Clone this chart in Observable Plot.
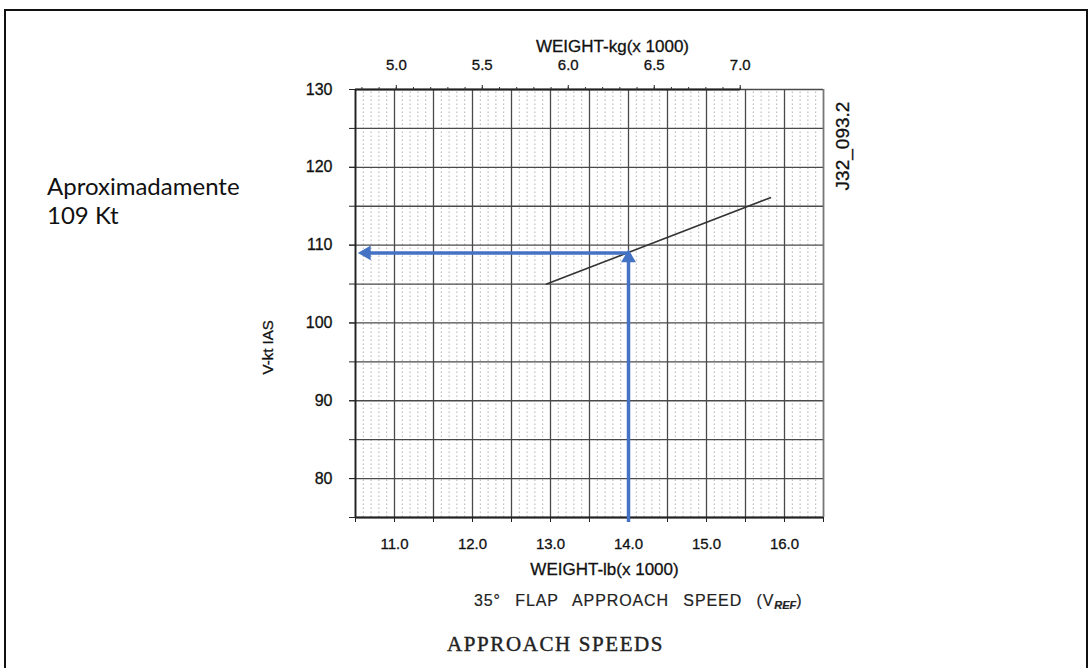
<!DOCTYPE html>
<html>
<head>
<meta charset="utf-8">
<script src="https://cdn.jsdelivr.net/npm/d3@7"></script>
<script src="https://cdn.jsdelivr.net/npm/@observablehq/plot@0.6"></script>
<style>
  html, body { margin: 0; padding: 0; background: #fff; }
  #wrap { position: relative; width: 1091px; height: 668px; overflow: hidden; font-family: "Liberation Sans", Arial, sans-serif; }
  #border { position: absolute; left: 4px; top: 9px; width: 1084px; height: 700px; border: 2px solid #111; box-sizing: border-box; }
  .note { position: absolute; left: 47px; top: 171px; font-family: Lato, "Open Sans", sans-serif; font-size: 24px; line-height: 29px; color: #111; }
  .code { position: absolute; left: 843px; top: 146px; transform: translate(-50%, -50%) rotate(-90deg); font-size: 19px; color: #111; white-space: nowrap; -webkit-text-stroke: 0.3px #111; }
  .flap { position: absolute; left: 474px; top: 592px; font-size: 16px; color: #222; word-spacing: 9px; letter-spacing: 0.9px; white-space: nowrap; -webkit-text-stroke: 0.2px #222; }
  .flap sub { font-size: 11px; font-style: italic; font-weight: bold; vertical-align: -3px; word-spacing: 0; letter-spacing: 0; }
  .title { position: absolute; left: 447px; top: 632px; font-family: "Liberation Serif", "DejaVu Serif", serif; font-size: 21px; letter-spacing: 1.6px; color: #222; white-space: nowrap; -webkit-text-stroke: 0.4px #222; }
  svg { position: absolute; left: 0; top: 0; }
  svg text { stroke: #111; stroke-width: 0.3px; }
</style>
</head>
<body>
<div id="wrap">
  <div id="border"></div>
  <div class="note">Aproximadamente<br>109 Kt</div>
  <div class="code">J32_093.2</div>
  <div class="flap">35° FLAP APPROACH SPEED (V<sub>REF</sub>)</div>
  <div class="title">APPROACH SPEEDS</div>
</div>
<script>
// ---- data ----
const lbTicks = [11.0, 12.0, 13.0, 14.0, 15.0, 16.0];          // WEIGHT-lb (x1000)
const lbTickLabels = ["11.0", "12.0", "13.0", "14.0", "15.0", "16.0"];
const kgTicks = [5.0, 5.5, 6.0, 6.5, 7.0];                      // WEIGHT-kg (x1000)
const kgTickLabels = ["5.0", "5.5", "6.0", "6.5", "7.0"];
const speedTicks = [80, 90, 100, 110, 120, 130];                // V-kt IAS
const speedTickLabels = ["80", "90", "100", "110", "120", "130"];
const LB_PER_KG = 2.20462;

const weightDomain = [10.5, 16.5];
const speedDomain = [75, 130];

// approach speed line
const vrefWeight = [12.95, 15.82];
const vrefSpeed = [105, 116.1];

// reading (blue arrows)
const readWeight = 14.0;
const readSpeed = 109;
const arrowLeftWeight = 10.64;

const vrefLine = vrefWeight.map((w, i) => ({w, v: vrefSpeed[i]}));
const kgMax = kgTicks[kgTicks.length - 1];
const halfLb = d3.range(weightDomain[0], weightDomain[1] + 0.001, 0.5);
const tenthLb = d3.range(weightDomain[0], weightDomain[1] + 0.001, 0.1);
const fiveKt = d3.range(speedDomain[0], speedDomain[1] + 0.001, 5);
const kgMinor = d3.range(4.8, kgMax + 0.001, 0.1).map(k => k * LB_PER_KG);
const blue = "#4472C4";

const chart = Plot.plot({
  width: 1091,
  height: 668,
  marginLeft: 355,
  marginRight: 268,
  marginTop: 89,
  marginBottom: 151,
  style: {fontFamily: "Liberation Sans, Arial, sans-serif", fontSize: "15px", color: "#111", background: "transparent"},
  x: {domain: weightDomain},
  y: {domain: speedDomain},
  marks: [
    // fine dotted texture of the scanned grid
    Plot.ruleX(tenthLb, {y1: speedDomain[0], y2: speedDomain[1], stroke: "#666", strokeOpacity: 0.5, strokeDasharray: "1.5,2.5"}),
    // main grid
    Plot.ruleX(halfLb, {y1: speedDomain[0], y2: speedDomain[1], stroke: "#4a4a4a", strokeWidth: 1.3}),
    Plot.ruleY(fiveKt, {x1: weightDomain[0], x2: weightDomain[1], stroke: "#4a4a4a", strokeWidth: 1.3}),
    // frame
    Plot.ruleX([weightDomain[0]], {y1: speedDomain[0], y2: speedDomain[1], stroke: "#222", strokeWidth: 1.8}),
    Plot.ruleX([weightDomain[1]], {y1: speedDomain[0], y2: speedDomain[1], stroke: "#777", strokeWidth: 1.5}),
    Plot.ruleY([speedDomain[0]], {x1: weightDomain[0], x2: weightDomain[1], stroke: "#222", strokeWidth: 2}),
    Plot.ruleY([speedDomain[1]], {x1: weightDomain[0], x2: kgMax * LB_PER_KG, stroke: "#222", strokeWidth: 2.2}),
    // axes
    Plot.axisY({ticks: speedTicks, tickSize: 6, tickPadding: 17, tickFormat: d => speedTickLabels[speedTicks.indexOf(d)], label: null, fontSize: 16, stroke: "#222"}),
    Plot.axisY({ticks: fiveKt, tickSize: 6, tickFormat: () => "", label: null, stroke: "#222"}),
    Plot.axisX({ticks: lbTicks, tickSize: 5, tickPadding: 16, tickFormat: d => lbTickLabels[lbTicks.indexOf(d)], label: null, fontSize: 15, stroke: "#222"}),
    Plot.axisX({ticks: halfLb, tickSize: 5, tickFormat: () => "", label: null, stroke: "#222"}),
    Plot.axisX({anchor: "top", ticks: kgTicks.map(k => k * LB_PER_KG), tickSize: 5, tickPadding: 15,
      tickFormat: d => kgTickLabels[kgTicks.findIndex(k => Math.abs(k * LB_PER_KG - d) < 1e-6)], label: null, fontSize: 15, stroke: "#222"}),
    Plot.axisX({anchor: "top", ticks: kgMinor, tickSize: 3, tickFormat: () => "", label: null, stroke: "#333"}),
    // axis titles
    Plot.text(["WEIGHT-kg(x 1000)"], {frameAnchor: "top", dx: 23, dy: -50, fontSize: 17, fill: "#111"}),
    Plot.text(["WEIGHT-lb(x 1000)"], {frameAnchor: "bottom", dx: 15, dy: 57, fontSize: 17, fill: "#111"}),
    Plot.text(["V-kt IAS"], {frameAnchor: "left", dx: -87, dy: 71, rotate: -90, fontSize: 15, fill: "#111"}),
    // 35° flap V_REF line
    Plot.line(vrefLine, {x: "w", y: "v", stroke: "#333", strokeWidth: 1.6}),
    // reading arrows
    Plot.ruleX([readWeight], {y1: speedDomain[0], y2: readSpeed, stroke: blue, strokeWidth: 3.5, dy: 5}),
    Plot.ruleY([readSpeed], {x1: arrowLeftWeight, x2: readWeight, stroke: blue, strokeWidth: 3.5}),
    Plot.dot([{w: readWeight, v: readSpeed}], {x: "w", y: "v", symbol: "triangle", r: 5.5, fill: blue, stroke: null, dy: 5}),
    Plot.dot([{w: arrowLeftWeight, v: readSpeed}], {x: "w", y: "v", symbol: "triangle", r: 5.5, fill: blue, stroke: null, rotate: -90})
  ]
});
document.getElementById("wrap").appendChild(chart);
</script>
</body>
</html>
